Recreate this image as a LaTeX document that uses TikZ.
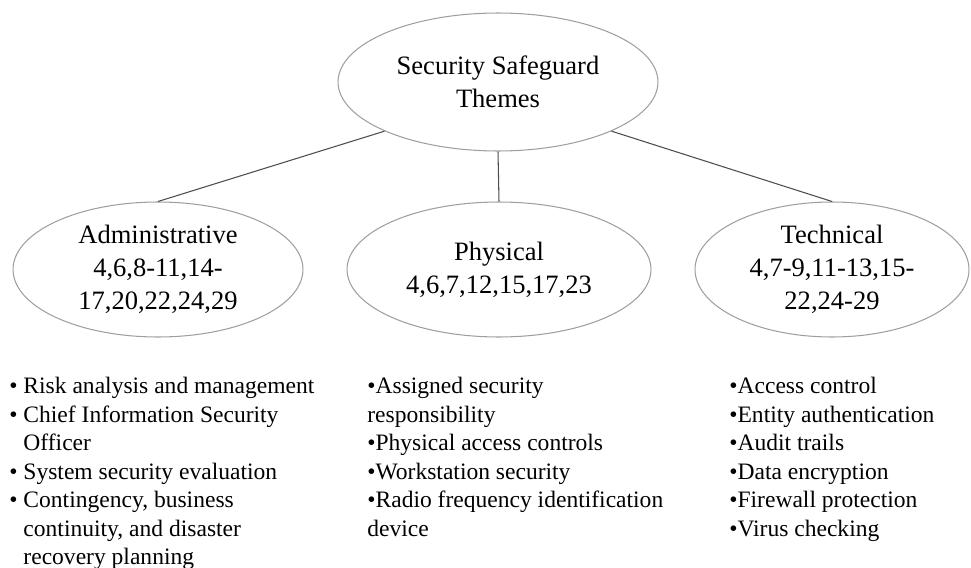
\documentclass[tikz,border=0pt]{standalone}
\usepackage{fontspec}
\setmainfont{Liberation Serif}
\usetikzlibrary{shapes.geometric}
\begin{document}
\begin{tikzpicture}[x=0.02cm, y=-0.02cm,
    theme/.style={ellipse, draw=gray!75, line width=0.6pt, inner sep=0pt, align=center, font=\fontsize{15.1}{18.8}\selectfont},
    items/.style={anchor=north west, align=left, inner sep=0pt, font=\fontsize{13.4}{16.2}\selectfont},
    link/.style={draw=black!70, line width=0.6pt}]
    \useasboundingbox (0,0) rectangle (971,568);

    \node[theme, minimum width=6.4cm, minimum height=2.76cm] (top) at (498,82) {Security Safeguard\\Themes};
    \node[theme, minimum width=5.8cm, minimum height=2.7cm] (admin) at (158,269.5) {Administrative\\4,6,8-11,14-\\17,20,22,24,29}; 
    \node[theme, minimum width=6.08cm, minimum height=2.7cm] (phys) at (499,269.5) {Physical\\4,6,7,12,15,17,23};
    \node[theme, minimum width=5.48cm, minimum height=2.7cm] (tech) at (832,269.5) {Technical\\4,7-9,11-13,15-\\22,24-29};

    \draw[link] (top.south west) -- (admin.north);
    \draw[link] (top.south) -- (phys.north);
    \draw[link] (top.south east) -- (tech.north);

    % safeguards per theme
    \node[items] (adminList) at (9,377) {\textbullet\ Risk analysis and management\\
        \textbullet\ Chief Information Security\\
        \phantom{\textbullet\ }Officer\\
        \textbullet\ System security evaluation\\
        \textbullet\ Contingency, business\\
        \phantom{\textbullet\ }continuity, and disaster\\
        \phantom{\textbullet\ }recovery planning};
    \node[items] (physList) at (367,377) {\textbullet Assigned security\\
        responsibility\\
        \textbullet Physical access controls\\
        \textbullet Workstation security\\
        \textbullet Radio frequency identification\\
        device};
    \node[items] (techList) at (729,377) {\textbullet Access control\\
        \textbullet Entity authentication\\
        \textbullet Audit trails\\
        \textbullet Data encryption\\
        \textbullet Firewall protection\\
        \textbullet Virus checking};
\end{tikzpicture}
\end{document}
